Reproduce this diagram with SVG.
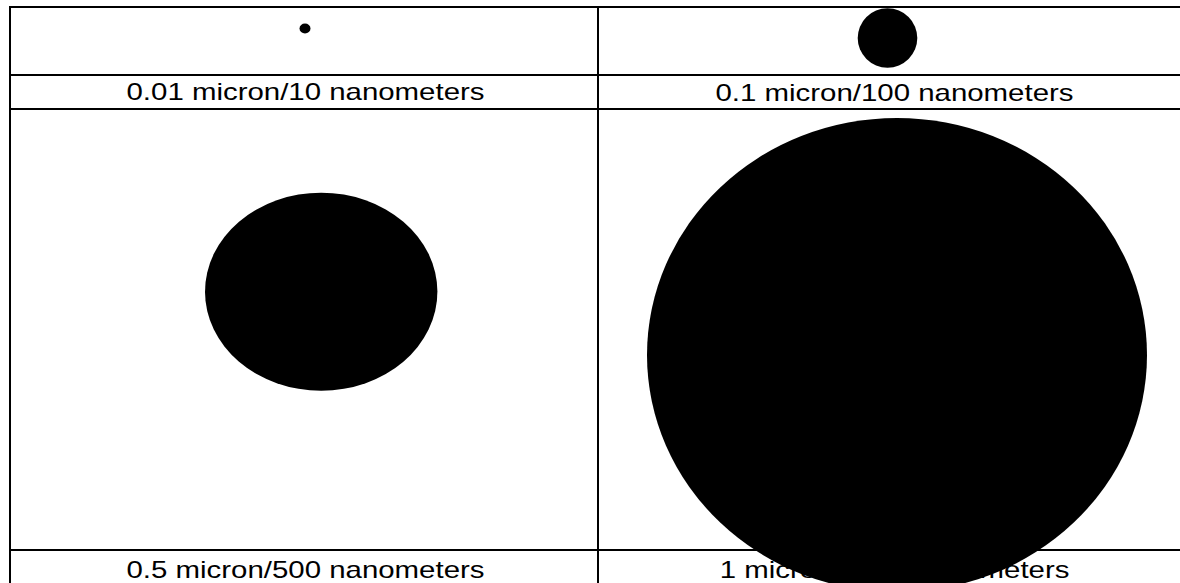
<svg xmlns="http://www.w3.org/2000/svg" width="1180" height="583" viewBox="0 0 1180 583">
  <style>
    .grid { stroke: #000; stroke-width: 2; fill: none; }
    .lbl { font-family: "Liberation Sans", Arial, sans-serif; font-size: 24px; fill: #000; text-anchor: middle; }
    .blob { fill: #000; }
  </style>
  <rect x="0" y="0" width="1180" height="583" fill="#fff"/>
  <g id="grid">
    <line class="grid" x1="9" y1="7" x2="1180" y2="7"/>
    <line class="grid" x1="10" y1="6" x2="10" y2="583"/>
    <line class="grid" x1="598" y1="6" x2="598" y2="583"/>
    <line class="grid" x1="9" y1="75" x2="1180" y2="75"/>
    <line class="grid" x1="9" y1="109" x2="1180" y2="109"/>
    <line class="grid" x1="9" y1="550" x2="1180" y2="550"/>
  </g>
  <g id="cell-10nm">
    <ellipse class="blob" cx="305" cy="28.5" rx="5.5" ry="5"/>
    <text class="lbl" x="305.5" y="100" textLength="358" lengthAdjust="spacingAndGlyphs">0.01 micron/10 nanometers</text>
  </g>
  <g id="cell-100nm">
    <ellipse class="blob" cx="887.5" cy="38" rx="29.8" ry="29.7"/>
    <text class="lbl" x="894.5" y="100.5" textLength="358" lengthAdjust="spacingAndGlyphs">0.1 micron/100 nanometers</text>
  </g>
  <g id="cell-500nm">
    <ellipse class="blob" cx="321.2" cy="291.7" rx="116.2" ry="99"/>
    <text class="lbl" x="305.5" y="578" textLength="358" lengthAdjust="spacingAndGlyphs">0.5 micron/500 nanometers</text>
  </g>
  <g id="cell-1000nm">
    <text class="lbl" x="894.6" y="578" textLength="349.7" lengthAdjust="spacingAndGlyphs">1 micron/1000 nanometers</text>
    <ellipse class="blob" cx="897" cy="355" rx="250" ry="237"/>
  </g>
</svg>
